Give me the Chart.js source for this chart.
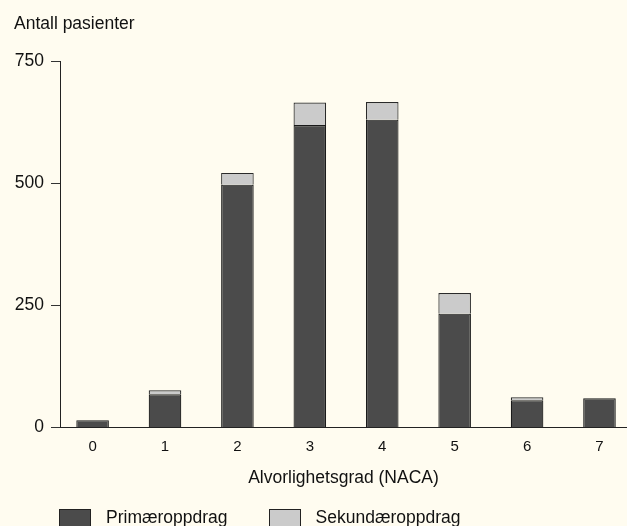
<!DOCTYPE html>
<html>
<head>
<meta charset="utf-8">
<script src="https://cdn.jsdelivr.net/npm/chart.js@4"></script>
<style>
  html, body { margin: 0; padding: 0; background: #fffcf0; overflow: hidden; }
  #wrap { position: relative; width: 627px; height: 526px; }
  #legend { position: absolute; left: 59px; top: 509px; display: flex; font-family: 'Liberation Sans', Arial, sans-serif; font-size: 17.5px; color: #111; }
  .item { display: flex; align-items: flex-start; margin-right: 41px; line-height: 17.5px; }
  .box { width: 30px; height: 18px; border: 1px solid #222; margin-right: 15px; }
</style>
</head>
<body>
<div id="wrap">
  <canvas id="chart" width="627" height="526"></canvas>
  <div id="legend"></div>
</div>
<script>
// NACA-grad og antall pasienter
const naca = [0, 1, 2, 3, 4, 5, 6, 7];
const primaer = [15, 68, 497, 619, 630, 233, 56, 60];
const sekundaer = [0, 8, 24, 46, 36, 42, 6, 0];
const yTicks = [0, 250, 500, 750];

const textColor = '#111';
Chart.defaults.font.family = "'Liberation Sans', Arial, sans-serif";
Chart.defaults.color = textColor;

const chart = new Chart(document.getElementById('chart').getContext('2d'), {
    type: 'bar',
    data: {
        labels: naca,
        datasets: [{
            label: 'Primæroppdrag',
            data: primaer,
            backgroundColor: '#4b4b4b',
            borderColor: '#1a1a1a',
            borderWidth: 1.2
        }, {
            label: 'Sekundæroppdrag',
            data: sekundaer,
            backgroundColor: '#cbcbcb',
            borderColor: '#2a2a2a',
            borderWidth: 1.2
        }]
    },
    options: {
        responsive: false,
        animation: false,
        categoryPercentage: 0.9,
        barPercentage: 0.5,
        layout: { padding: { left: 14, right: 0, top: 0, bottom: 37.5 } },
        plugins: {
            legend: { display: false },
            tooltip: { enabled: false },
            title: {
                display: true,
                text: 'Antall pasienter',
                align: 'start',
                color: textColor,
                font: { size: 17.5, weight: 'normal' },
                padding: { top: 13.5, bottom: 26.5 }
            }
        },
        scales: {
            x: {
                type: 'linear',
                offset: false,
                stacked: true,
                min: -0.45,
                max: 7.38,
                afterBuildTicks: s => { s.ticks = naca.map(v => ({ value: v })); },
                grid: { display: false, offset: false },
                border: { display: true, color: '#222', width: 1 },
                ticks: { font: { size: 15 }, padding: 2, maxRotation: 0 },
                title: {
                    display: true,
                    text: 'Alvorlighetsgrad (NACA)',
                    font: { size: 17.5 },
                    padding: { top: 10, bottom: 0 }
                }
            },
            y: {
                stacked: true,
                min: 0,
                max: 750,
                afterBuildTicks: s => { s.ticks = yTicks.map(v => ({ value: v })); },
                afterFit: s => { s.width = 46; },
                grid: { display: true, drawOnChartArea: false, drawTicks: true, tickLength: 9, color: '#333' },
                border: { display: true, color: '#222', width: 1 },
                ticks: { font: { size: 17.5 }, padding: 7 }
            }
        }
    }
});

// legend below the plot
const legend = document.getElementById('legend');
chart.data.datasets.forEach(ds => {
    const item = document.createElement('div');
    item.className = 'item';
    const box = document.createElement('span');
    box.className = 'box';
    box.style.background = ds.backgroundColor;
    const label = document.createElement('span');
    label.textContent = ds.label;
    item.appendChild(box);
    item.appendChild(label);
    legend.appendChild(item);
});
</script>
</body>
</html>
